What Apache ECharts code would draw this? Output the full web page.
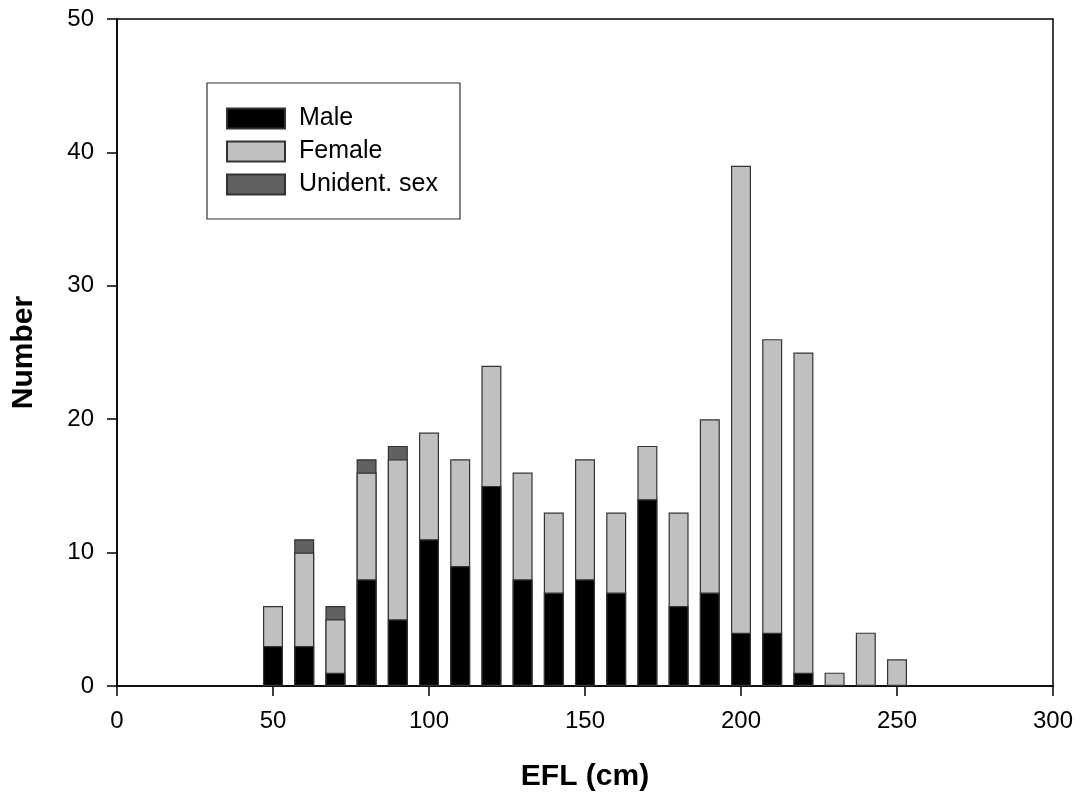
<!DOCTYPE html>
<html>
<head>
<meta charset="utf-8">
<script src="https://cdn.jsdelivr.net/npm/echarts@6/dist/echarts.min.js"></script>
<style>
html,body{margin:0;padding:0;background:#fff;}
#chart{width:1081px;height:803px;}
</style>
</head>
<body>
<div id="chart"></div>
<script>
var bins = [50,60,70,80,90,100,110,120,130,140,150,160,170,180,190,200,210,220,230,240,250];
var male    = [3,3,1,8,5,11,9,15,8,7,8,7,14,6,7,4,4,1,0,0,0];
var female  = [3,7,4,8,12,8,8,9,8,6,9,6,4,7,13,35,22,24,1,4,2];
var unident = [0,1,1,1,1,0,0,0,0,0,0,0,0,0,0,0,0,0,0,0,0];
var xTicks = [0,50,100,150,200,250,300];
var yTicks = [0,10,20,30,40,50];

// cumulative tops so that layered bars look stacked
var topMale = male.slice();
var topFemale = male.map(function(m,i){ return m + female[i]; });
var topUnident = topFemale.map(function(t,i){ return t + unident[i]; });
function pairs(tops, own){ return bins.map(function(b,i){ return [b, own[i] === 0 ? null : tops[i]]; }); }

var font = 'Liberation Sans, Arial, sans-serif';
var chart = echarts.init(document.getElementById('chart'), null, {renderer:'canvas'});
function mk(name, data, color, z){
  return {
    name: name, type: 'bar', barWidth: 20, barGap: '-100%', z: z,
    data: data,
    itemStyle: {color: color, borderColor: '#333', borderWidth: 1.2},
    emphasis: {disabled: true}
  };
}
chart.setOption({
  animation: false,
  backgroundColor: '#fff',
  grid: {left: 117, right: 28, top: 19, bottom: 117, show: true, borderColor: '#000', borderWidth: 1.5, backgroundColor: 'transparent'},
  legend: {
    orient: 'vertical', left: 207, top: 83,
    padding: [23, 22, 22, 19],
    itemWidth: 58, itemHeight: 20, itemGap: 8,
    icon: 'rect',
    borderColor: '#333', borderWidth: 1.2, borderRadius: 0,
    textStyle: {fontFamily: font, fontSize: 25, color: '#000', padding: [0,0,0,9]},
    data: ['Male','Female','Unident. sex']
  },
  xAxis: {
    type: 'value', min: xTicks[0], max: xTicks[xTicks.length-1], interval: 50,
    name: 'EFL (cm)', nameLocation: 'middle', nameGap: 76,
    nameTextStyle: {fontFamily: font, fontSize: 30, fontWeight: 'bold', color: '#000'},
    axisLine: {onZero: false, lineStyle: {color: '#000', width: 1.5}},
    axisTick: {show: true, inside: false, length: 10, lineStyle: {color: '#000', width: 1.5}},
    axisLabel: {fontFamily: font, fontSize: 24, color: '#000', margin: 23},
    splitLine: {show: false}
  },
  yAxis: {
    type: 'value', min: yTicks[0], max: yTicks[yTicks.length-1], interval: 10,
    name: 'Number', nameLocation: 'middle', nameGap: 78, nameRotate: 90,
    nameTextStyle: {fontFamily: font, fontSize: 30, fontWeight: 'bold', color: '#000'},
    axisLine: {show: true, lineStyle: {color: '#000', width: 1.5}},
    axisTick: {show: true, inside: false, length: 10, lineStyle: {color: '#000', width: 1.5}},
    axisLabel: {fontFamily: font, fontSize: 24, color: '#000', margin: 23},
    splitLine: {show: false}
  },
  series: [
    mk('Male', pairs(topMale, male), '#000000', 4),
    mk('Female', pairs(topFemale, female), '#c0c0c0', 3),
    mk('Unident. sex', pairs(topUnident, unident), '#616161', 2)
  ]
});
</script>
</body>
</html>
